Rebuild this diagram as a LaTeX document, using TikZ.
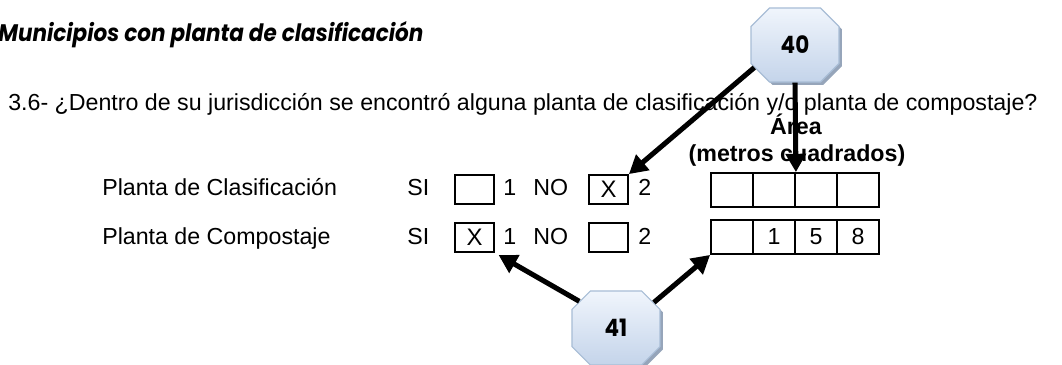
\documentclass[tikz,border=0pt]{standalone}
\usepackage{fontspec}
\setmainfont{Liberation Sans}
\newfontfamily\titlefont{Poppins}[FakeStretch=0.9]
\usetikzlibrary{arrows.meta,shapes.misc,shadows}
\definecolor{octtop}{RGB}{240,245,252}
\definecolor{octbottom}{RGB}{196,212,234}
\definecolor{octline}{RGB}{168,189,214}
\definecolor{octshadow}{RGB}{150,165,186}
\tikzset{>={Triangle[length=13pt,width=14pt]}}

\begin{document}
\begin{tikzpicture}[x=0.025cm,y=-0.025cm,
    lbl/.style={anchor=base west,inner sep=0pt,font=\fontsize{16.5}{19}\selectfont},
    chk/.style={draw,line width=1.3pt,inner sep=0pt,minimum width=0.975cm,minimum height=0.725cm,font=\fontsize{17}{19}\selectfont},
    cell/.style={draw,line width=1.3pt,inner sep=0pt,minimum width=1.05cm,minimum height=0.85cm,font=\fontsize{16.5}{19}\selectfont},
    octo/.style={chamfered rectangle,chamfered rectangle xsep=0.42cm,draw=octline,thick,
      top color=octtop,bottom color=octbottom,minimum width=2.2cm,minimum height=1.85cm,
      drop shadow={shadow xshift=0.07cm,shadow yshift=-0.07cm,fill=octshadow,opacity=1},
      font=\titlefont\bfseries\fontsize{17}{19}\selectfont},
    pointer/.style={->,line width=3.6pt}]
  \useasboundingbox (0,0) rectangle (1062,365);
  \node[lbl,font=\titlefont\bfseries\itshape\fontsize{17}{20}\selectfont] (title) at (-2,42) {Municipios con planta de clasificación};
  \node[lbl] (q) at (8,111) {3.6- ¿Dentro de su jurisdicción se encontró alguna planta de clasificación y/o planta de compostaje?};
  \node[lbl,anchor=base,font=\bfseries\fontsize{16.5}{19}\selectfont] (area) at (796,135) {Área};
  \node[lbl,anchor=base,font=\bfseries\fontsize{16.5}{19}\selectfont] (unit) at (797,162) {(metros cuadrados)};
  % fila 1
  \node[lbl] (pc) at (102,196) {Planta de Clasificación};
  \node[lbl] (si1) at (407,196) {SI};
  \node[chk] (bs1) at (474.5,189.5) {};
  \node[lbl] (u1) at (503,196) {1};
  \node[lbl] (no1) at (533,196) {NO};
  \node[chk] (bn1) at (608.5,189.5) {X};
  \node[lbl] (d1) at (638,196) {2};
  \node[cell] (m11) at (732,190) {};
  \node[cell] (m12) at (774,190) {};
  \node[cell] (m13) at (816,190) {};
  \node[cell] (m14) at (858,190) {};
  % fila 2
  \node[lbl] (pk) at (102,245) {Planta de Compostaje};
  \node[lbl] (si2) at (407,245) {SI};
  \node[chk] (bs2) at (474.5,237.5) {X};
  \node[lbl] (u2) at (503,245) {1};
  \node[lbl] (no2) at (533,245) {NO};
  \node[chk] (bn2) at (608.5,237.5) {};
  \node[lbl] (d2) at (638,245) {2};
  \node[cell] (m21) at (732,237) {};
  \node[cell] (m22) at (774,237) {1};
  \node[cell] (m23) at (816,237) {5};
  \node[cell] (m24) at (858,237) {8};
  \node[octo] (o40) at (795,45) {40};
  \node[octo] (o41) at (616,328) {41};
  \draw[pointer] (o40.209) -- (bn1.north east);
  \draw[pointer] (o40.south) -- (m12.north east);
  \draw[pointer,shorten >=3pt] (o41.144) -- (bs2.south east);
  \draw[pointer] (o41.34) -- (m21.south west);
\end{tikzpicture}
\end{document}
